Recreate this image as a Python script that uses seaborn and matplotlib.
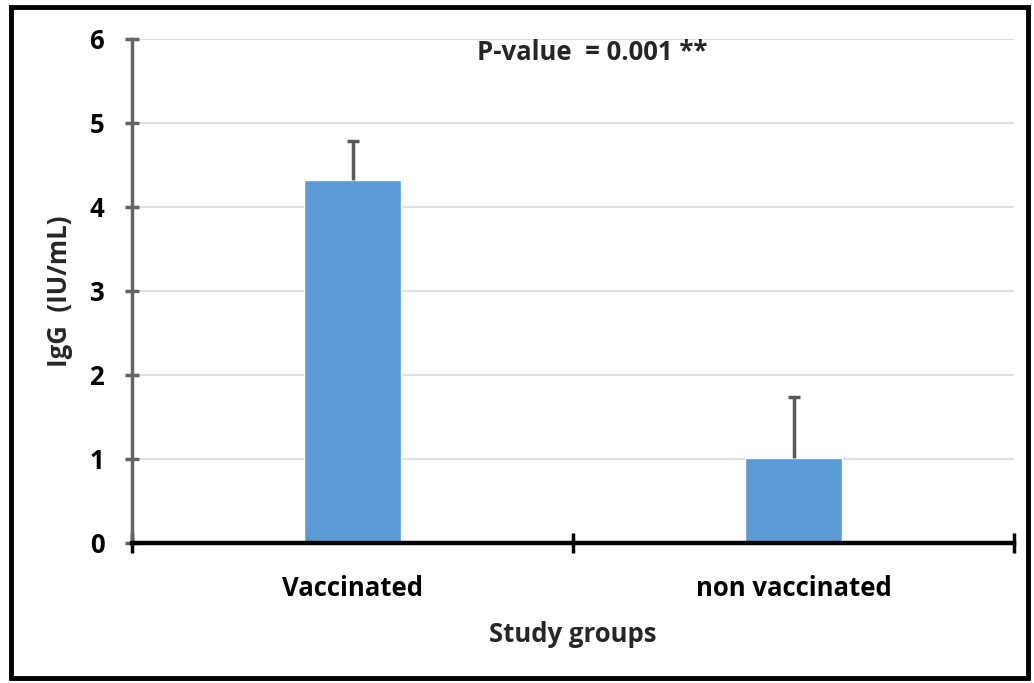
import matplotlib.pyplot as plt
import matplotlib.patches as mpatches
import seaborn as sns
import pandas as pd

groups = ["Vaccinated", "non vaccinated"]
igg_mean = [4.32, 1.01]
igg_err = [0.47, 0.73]

df = pd.DataFrame({"group": groups, "igg": igg_mean})

sns.set_theme(style="white")
plt.rcParams["font.family"] = ["Open Sans", "DejaVu Sans"]
plt.rcParams["font.weight"] = "bold"

fig = plt.figure(figsize=(10.34, 6.83), dpi=100)
ax = fig.add_axes([0.1277, 0.205, 0.853, 0.738])

sns.barplot(data=df, x="group", y="igg", color="#5B9BD5", width=0.22,
            saturation=1, errorbar=None, ax=ax, zorder=3)
eb = ax.errorbar(range(len(groups)), igg_mean, yerr=[[0] * len(groups), igg_err],
                 fmt="none", ecolor="#595959", elinewidth=2.5, capsize=4.5,
                 capthick=2.5, zorder=4)
eb[1][0].set_visible(False)  # no lower cap

ax.set_xlim(-0.5, 1.5)
ax.set_ylim(0, 6)
ax.set_yticks(range(7))
ax.yaxis.grid(True, color="#D9D9D9", linewidth=1.2, zorder=0)
ax.set_axisbelow(True)

for s in ["top", "right"]:
    ax.spines[s].set_visible(False)
ax.spines["left"].set_color("#646464")
ax.spines["left"].set_linewidth(2.5)
ax.spines["bottom"].set_color("black")
ax.spines["bottom"].set_linewidth(3.2)
ax.spines["bottom"].set_zorder(5)

ax.tick_params(axis="y", left=True, direction="inout", length=10, width=2.5,
               color="#646464", labelsize=18.5, pad=15)
ax.tick_params(axis="x", which="major", bottom=False, labelsize=18.5, pad=17)
ax.set_xticks([-0.5, 0.5, 1.5], minor=True)
ax.tick_params(axis="x", which="minor", bottom=True, direction="inout",
               length=14, width=2.5, color="black")
for lab in ax.get_xticklabels() + ax.get_yticklabels():
    lab.set_fontweight("bold")
    lab.set_color("black")

ax.set_xlabel("Study groups", fontsize=18.5, fontweight="bold", labelpad=14)
ax.set_ylabel("IgG  (IU/mL)", fontsize=18.5, fontweight="bold", labelpad=12)

fig.text(0.573, 0.923, "P-value  = 0.001 **", ha="center", va="center",
         fontsize=18.5, fontweight="bold")

fig.patches.append(mpatches.Rectangle((0.011, 0.007), 0.983, 0.983,
                                      transform=fig.transFigure, fill=False,
                                      edgecolor="black", linewidth=3.5))

fig.savefig("out.png", dpi=100)
